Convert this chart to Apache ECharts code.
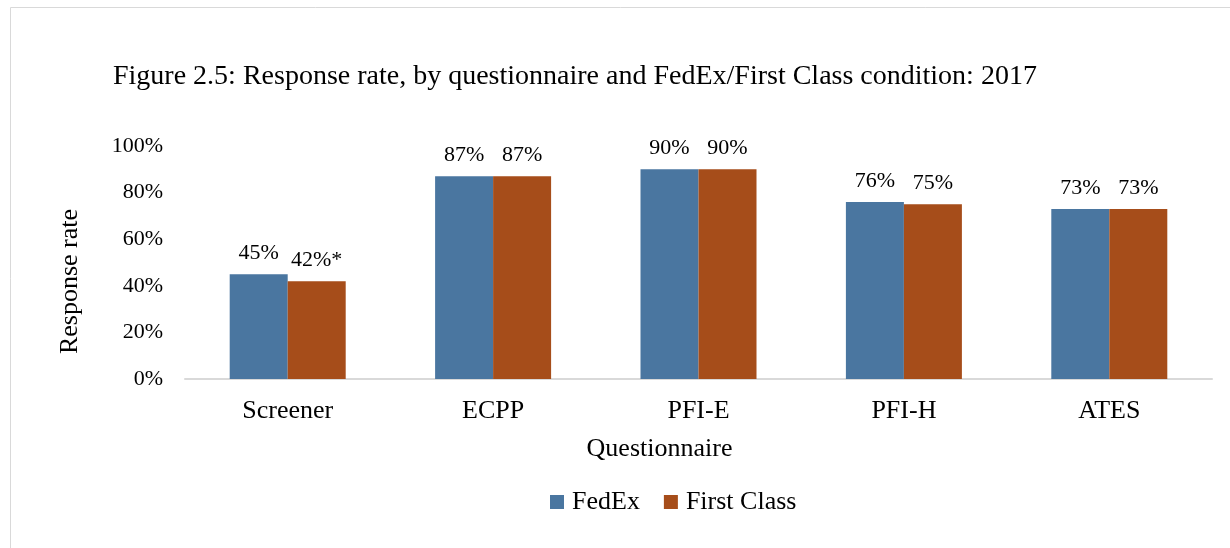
<!DOCTYPE html>
<html>
<head>
<meta charset="utf-8">
<script src="https://cdn.jsdelivr.net/npm/echarts@6/dist/echarts.min.js"></script>
<style>
	html, body { margin: 0; padding: 0; background: #fff; }
	#main { width: 1230px; height: 548px; }
</style>
</head>
<body>
<div id="main"></div>
<script>
	// data
	var categories = ['Screener', 'ECPP', 'PFI-E', 'PFI-H', 'ATES'];
	var fedex = [45, 87, 90, 76, 73];
	var firstClass = [42, 87, 90, 75, 73];
	var fedexLabels = ['45%', '87%', '90%', '76%', '73%'];
	var firstClassLabels = ['42%*', '87%', '90%', '75%', '73%'];
	var yTicks = [0, 20, 40, 60, 80, 100];

	var serif = '"Liberation Serif", "Times New Roman", serif';

	var chart = echarts.init(document.getElementById('main'));
	chart.setOption({
		animation: false,
		color: ['#4a76a0', '#a64d1a'],
		textStyle: { fontFamily: serif, color: '#000' },
		graphic: [{
			type: 'rect',
			shape: { x: 10.5, y: 7.5, width: 1400, height: 700 },
			style: { fill: 'none', stroke: '#d9d9d9', lineWidth: 1 }
		}],
		title: {
			text: 'Figure 2.5: Response rate, by questionnaire and FedEx/First Class condition: 2017',
			left: 108,
			top: 58,
			textStyle: { fontFamily: serif, fontSize: 28, fontWeight: 'normal', color: '#000' }
		},
		legend: {
			left: 545,
			top: 484,
			itemWidth: 14,
			itemHeight: 14,
			itemGap: 24,
			icon: 'rect',
			textStyle: { fontFamily: serif, fontSize: 26, color: '#000', padding: [0, 0, 0, 3] },
			data: ['FedEx', 'First Class']
		},
		grid: { left: 185, right: 18, top: 146, bottom: 169 },
		xAxis: {
			type: 'category',
			data: categories,
			name: 'Questionnaire',
			nameLocation: 'middle',
			nameGap: 57,
			nameTextStyle: { fontFamily: serif, fontSize: 26, color: '#000', padding: [0, 78, 0, 0] },
			axisLine: { lineStyle: { color: '#d9d9d9', width: 2 } },
			axisTick: { show: false },
			axisLabel: { fontFamily: serif, fontSize: 26, color: '#000', margin: 19 }
		},
		yAxis: {
			type: 'value',
			min: yTicks[0],
			max: yTicks[yTicks.length - 1],
			interval: yTicks[1] - yTicks[0],
			name: 'Response rate',
			nameLocation: 'middle',
			nameGap: 102,
			nameTextStyle: { fontFamily: serif, fontSize: 26, color: '#000', padding: [0, 38, 0, 0] },
			axisLine: { show: false },
			axisTick: { show: false },
			splitLine: { show: false },
			axisLabel: { fontFamily: serif, fontSize: 22, color: '#000', margin: 22, formatter: '{value}%' }
		},
		series: [{
			name: 'FedEx',
			type: 'bar',
			data: fedex,
			barWidth: 58,
			barGap: '0%',
			label: {
				show: true, position: 'top', distance: 10,
				fontFamily: serif, fontSize: 22, color: '#000',
				formatter: function (p) { return fedexLabels[p.dataIndex]; }
			}
		}, {
			name: 'First Class',
			type: 'bar',
			data: firstClass,
			barWidth: 58,
			label: {
				show: true, position: 'top', distance: 10,
				fontFamily: serif, fontSize: 22, color: '#000',
				formatter: function (p) { return firstClassLabels[p.dataIndex]; }
			}
		}]
	});
</script>
</body>
</html>
